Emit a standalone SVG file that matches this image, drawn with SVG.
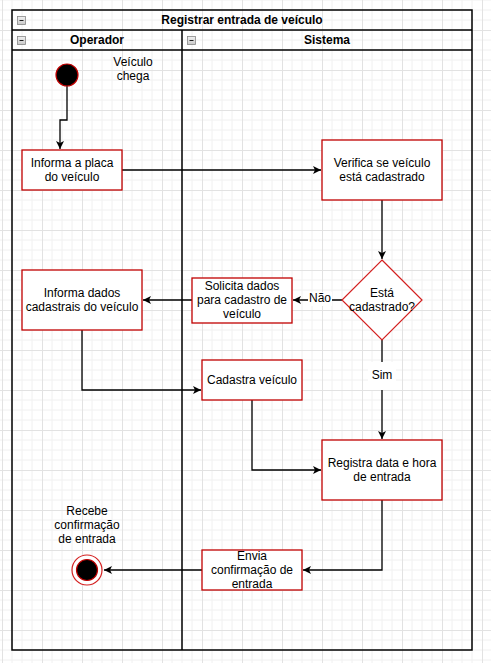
<svg xmlns="http://www.w3.org/2000/svg" width="491" height="663" viewBox="0 0 491 663">
<defs>
<pattern id="grid" patternUnits="userSpaceOnUse" x="2" y="30" width="40" height="40">
<path d="M10,0V40M20,0V40M30,0V40M0,10H40M0,20H40M0,30H40" stroke="#f0f0f0" stroke-width="1" fill="none"/>
<path d="M0.5,0V40M0,0.5H40" stroke="#e2e2e2" stroke-width="1" fill="none"/>
</pattern>
<marker id="arr" markerUnits="userSpaceOnUse" markerWidth="10" markerHeight="10" viewBox="0 0 10 10" refX="9" refY="5" orient="auto">
<path d="M1,1 L9,5 L1,9 L3,5 Z" fill="#000"/>
</marker>
<linearGradient id="ig" x1="0" y1="0" x2="0" y2="1"><stop offset="0" stop-color="#f2f2f2"/><stop offset="1" stop-color="#c8c8c8"/></linearGradient>
</defs>
<style>
text{font-family:"Liberation Sans",Arial,sans-serif;font-size:12px;fill:#000;text-anchor:middle;dominant-baseline:central}
.b{font-weight:bold}
.box{fill:#fff;stroke:#c00000;stroke-width:1.3}
.c{fill:none;stroke:#000;stroke-width:1.3}
.pool{fill:none;stroke:#000;stroke-width:1.5}
.ic{fill:url(#ig);stroke:#888;stroke-width:0.8}
</style>
<rect width="491" height="663" fill="#fff"/>
<rect width="491" height="663" fill="url(#grid)"/>

<g id="pool">
<rect x="12" y="10" width="460" height="640" class="pool"/>
<line x1="12" y1="30" x2="472" y2="30" class="pool"/>
<line x1="12" y1="50" x2="472" y2="50" class="pool"/>
<line x1="182" y1="30" x2="182" y2="650" class="pool"/>
<rect x="17.5" y="16.5" width="8" height="8" class="ic"/><line x1="19.5" y1="20.5" x2="23.5" y2="20.5" stroke="#222"/>
<rect x="17.5" y="36.5" width="8" height="8" class="ic"/><line x1="19.5" y1="40.5" x2="23.5" y2="40.5" stroke="#222"/>
<rect x="187.5" y="36.5" width="8" height="8" class="ic"/><line x1="189.5" y1="40.5" x2="193.5" y2="40.5" stroke="#222"/>
<text x="242" y="20" class="b">Registrar entrada de veículo</text>
<text x="97" y="40" class="b">Operador</text>
<text x="327" y="40" class="b">Sistema</text>
</g>

<g id="connectors">
<path d="M67,86V120H60V149" class="c" marker-end="url(#arr)"/>
<path d="M122,170H321" class="c" marker-end="url(#arr)"/>
<path d="M382,200V259" class="c" marker-end="url(#arr)"/>
<path d="M342,300H293" class="c" marker-end="url(#arr)"/>
<rect x="308" y="292" width="24" height="14" fill="#fff"/>
<text x="320" y="298">Não</text>
<path d="M192,300H143" class="c" marker-end="url(#arr)"/>
<path d="M82,330V390H201" class="c" marker-end="url(#arr)"/>
<path d="M252,400V470H321" class="c" marker-end="url(#arr)"/>
<path d="M382,340V439" class="c" marker-end="url(#arr)"/>
<rect x="368" y="362" width="28" height="28" fill="#fff"/>
<text x="382" y="375">Sim</text>
<path d="M382,500V570H303" class="c" marker-end="url(#arr)"/>
<path d="M202,570H104" class="c" marker-end="url(#arr)"/>
</g>

<g id="start">
<circle cx="67" cy="75" r="11" fill="#000" stroke="#c00000" stroke-width="1.2"/>
<text x="133" y="62">Veículo</text>
<text x="133" y="76">chega</text>
</g>

<g id="informa-placa">
<rect x="22" y="150" width="100" height="40" class="box"/>
<text x="72" y="163">Informa a placa</text>
<text x="72" y="177">do veículo</text>
</g>

<g id="verifica">
<rect x="322" y="140" width="120" height="60" class="box"/>
<text x="382" y="163">Verifica se veículo</text>
<text x="382" y="177">está cadastrado</text>
</g>

<g id="decisao">
<path d="M382,260L422,300L382,340L342,300Z" fill="#fff" stroke="#d42020" stroke-width="1.2"/>
<text x="382" y="293">Está</text>
<text x="382" y="307">cadastrado?</text>
</g>

<g id="solicita">
<rect x="192" y="278" width="100" height="45" class="box" stroke="#e05050"/>
<text x="242" y="286">Solicita dados</text>
<text x="242" y="300">para cadastro de</text>
<text x="242" y="314">veículo</text>
</g>

<g id="informa-dados">
<rect x="22" y="270" width="120" height="60" class="box"/>
<text x="82" y="293">Informa dados</text>
<text x="82" y="307">cadastrais do veículo</text>
</g>

<g id="cadastra">
<rect x="202" y="360" width="100" height="40" class="box"/>
<text x="252" y="380">Cadastra veículo</text>
</g>

<g id="registra">
<rect x="322" y="440" width="120" height="60" class="box"/>
<text x="382" y="463">Registra data e hora</text>
<text x="382" y="477">de entrada</text>
</g>

<g id="envia">
<rect x="202" y="550" width="100" height="40" class="box"/>
<text x="252" y="556">Envia</text>
<text x="252" y="570">confirmação de</text>
<text x="252" y="584">entrada</text>
</g>

<g id="fim">
<circle cx="87" cy="570" r="15" fill="#fff" stroke="#d42020" stroke-width="1.2"/>
<circle cx="87" cy="570" r="10.5" fill="#000" stroke="#c00000" stroke-width="1.2"/>
<text x="87" y="511">Recebe</text>
<text x="87" y="525">confirmação</text>
<text x="87" y="539">de entrada</text>
</g>
</svg>
